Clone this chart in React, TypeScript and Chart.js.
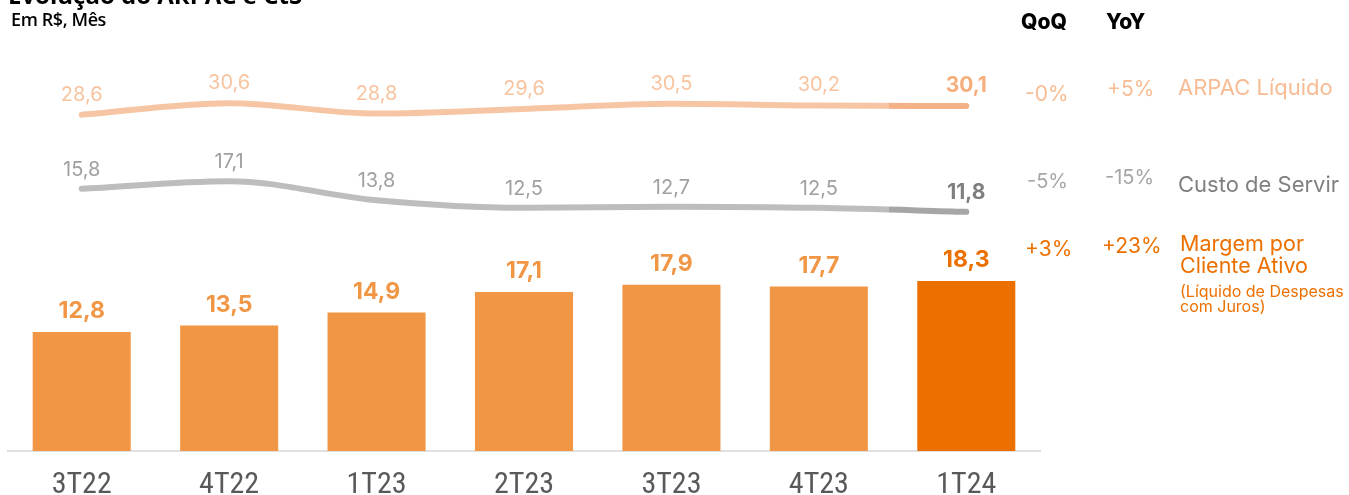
import React, { useEffect, useRef } from "react";
import { Chart, registerables } from "chart.js";

Chart.register(...registerables);

const categories = ["3T22", "4T22", "1T23", "2T23", "3T23", "4T23", "1T24"];
const margemValues = [12.8, 13.5, 14.9, 17.1, 17.9, 17.7, 18.3];
const arpacValues = [28.6, 30.6, 28.8, 29.6, 30.5, 30.2, 30.1];
const custoValues = [15.8, 17.1, 13.8, 12.5, 12.7, 12.5, 11.8];

const qoqLabels = ["-0%", "-5%", "+3%"];
const yoyLabels = ["+5%", "-15%", "+23%"];

const fmt = (v: number) => v.toFixed(1).replace(".", ",");

const ORANGE = "#EC7000";
const BAR_LIGHT = "#F09645";
const ARPAC_LINE = "#F6C6A4";
const ARPAC_LINE_DARK = "#F4B185";
const CUSTO_LINE = "#BDBDBD";
const CUSTO_LINE_DARK = "#A6A6A6";

const INTER = "Inter, 'Noto Sans', sans-serif";

const labelStyles: Record<number, any> = {
  0: { font: `700 23px ${INTER}`, lastFont: `700 23px ${INTER}`, color: BAR_LIGHT, lastColor: ORANGE, offset: 14 },
  1: { font: `400 20px ${INTER}`, lastFont: `700 21px ${INTER}`, color: "#F8C4A0", lastColor: "#F5AE7C", offset: 14 },
  2: { font: `400 20px ${INTER}`, lastFont: `700 21px ${INTER}`, color: "#A0A0A0", lastColor: "#7F7F7F", offset: 13 },
};

const valueLabelPlugin = {
  id: "valueLabels",
  afterDatasetsDraw(chart: any) {
    const ctx = chart.ctx;
    chart.data.datasets.forEach((ds: any, di: number) => {
      const meta = chart.getDatasetMeta(di);
      const st = labelStyles[di];
      const last = ds.data.length - 1;
      meta.data.forEach((el: any, i: number) => {
        const isLast = i === last;
        ctx.save();
        ctx.textAlign = "center";
        ctx.textBaseline = "alphabetic";
        ctx.font = isLast ? st.lastFont : st.font;
        ctx.fillStyle = isLast ? st.lastColor : st.color;
        ctx.fillText(fmt(ds.data[i]), el.x, el.y - st.offset);
        ctx.restore();
      });
    });
  },
};

function splitGradient(light: string, dark: string) {
  return (c: any) => {
    const chart = c.chart;
    const area = chart.chartArea;
    if (!area || !chart.scales || !chart.scales.x) return light;
    const xs = chart.scales.x;
    const mid = (xs.getPixelForValue(5) + xs.getPixelForValue(6)) / 2 - 4;
    const g = chart.ctx.createLinearGradient(area.left, 0, area.right, 0);
    const p = Math.min(1, Math.max(0, (mid - area.left) / (area.right - area.left)));
    g.addColorStop(0, light);
    g.addColorStop(p, light);
    g.addColorStop(p, dark);
    g.addColorStop(1, dark);
    return g;
  };
}

function ChartCanvas() {
  const ref = useRef<HTMLCanvasElement | null>(null);
  useEffect(() => {
    if (!ref.current) return;
    const chart = new Chart(ref.current, {
      type: "bar",
      data: {
        labels: categories,
        datasets: [
          {
            type: "bar",
            label: "Margem por Cliente Ativo",
            data: margemValues,
            backgroundColor: margemValues.map((_, i) => (i === margemValues.length - 1 ? ORANGE : BAR_LIGHT)),
            barPercentage: 0.665,
            categoryPercentage: 1,
            yAxisID: "y",
          } as any,
          {
            type: "line",
            label: "ARPAC Líquido",
            data: arpacValues,
            borderColor: splitGradient(ARPAC_LINE, ARPAC_LINE_DARK),
            borderWidth: 6,
            borderCapStyle: "round",
            pointRadius: 0,
            cubicInterpolationMode: "monotone",
            fill: false,
            yAxisID: "y2",
          } as any,
          {
            type: "line",
            label: "Custo de Servir",
            data: custoValues,
            borderColor: splitGradient(CUSTO_LINE, CUSTO_LINE_DARK),
            borderWidth: 6,
            borderCapStyle: "round",
            pointRadius: 0,
            cubicInterpolationMode: "monotone",
            fill: false,
            yAxisID: "y2",
          } as any,
        ],
      },
      options: {
        animation: false,
        responsive: false,
        maintainAspectRatio: false,
        layout: { padding: { left: 8, right: 309, top: 50, bottom: 0 } },
        plugins: { legend: { display: false }, tooltip: { enabled: false }, title: { display: false } },
        scales: {
          x: {
            grid: { display: false, drawTicks: false },
            border: { display: true, color: "#E0E0E0", width: 2 },
            ticks: {
              color: "#595959",
              padding: 19,
              font: { family: "'Liberation Sans Narrow', 'Roboto Condensed', Roboto, sans-serif", size: 30, lineHeight: 1 },
            },
          },
          y: { display: false, min: 0, max: 43.16 },
          y2: { display: false, min: -29.58, max: 39.8 },
        },
      } as any,
      plugins: [valueLabelPlugin],
    });
    return () => chart.destroy();
  }, []);
  return <canvas ref={ref} width={1349} height={519} style={{ display: "block", width: 1349, height: 519 }} />;
}

const abs = (left: number, top: number, extra: React.CSSProperties = {}): React.CSSProperties => ({
  position: "absolute",
  left,
  top,
  lineHeight: 1,
  whiteSpace: "nowrap",
  fontFamily: INTER,
  ...extra,
});

export default function App() {
  return (
    <div style={{ position: "absolute", left: 0, top: 0, width: 1349, height: 495, overflow: "hidden", background: "#fff" }}>
      <ChartCanvas />
      <div style={abs(8, -17, { fontFamily: "'Open Sans', sans-serif", fontWeight: 700, fontSize: 24, color: "#000" })}>
        Evolução do ARPAC e CtS
      </div>
      <div style={abs(11, 10, { fontFamily: "'Open Sans', sans-serif", fontWeight: 600, fontSize: 18, color: "#000", letterSpacing: -0.4 })}>
        Em R$, Mês
      </div>

      <div style={abs(1021, 11, { fontWeight: 800, fontSize: 21, color: "#000" })}>QoQ</div>
      <div style={abs(1106, 11, { fontWeight: 800, fontSize: 21, color: "#000" })}>YoY</div>

      <div style={abs(1025, 83, { fontSize: 21, color: "#F7BC94" })}>{qoqLabels[0]}</div>
      <div style={abs(1107, 78, { fontSize: 21, color: "#F7BC94" })}>{yoyLabels[0]}</div>
      <div style={abs(1178, 76, { fontSize: 22, color: "#F7BC94" })}>ARPAC Líquido</div>

      <div style={abs(1027, 171, { fontSize: 20, color: "#A6A6A6" })}>{qoqLabels[1]}</div>
      <div style={abs(1105, 167, { fontSize: 20, color: "#A6A6A6" })}>{yoyLabels[1]}</div>
      <div style={abs(1178, 173, { fontSize: 22, color: "#808080" })}>Custo de Servir</div>

      <div style={abs(1025, 238, { fontSize: 21, color: ORANGE })}>{qoqLabels[2]}</div>
      <div style={abs(1102, 235, { fontSize: 21, color: ORANGE })}>{yoyLabels[2]}</div>
      <div style={abs(1180, 232, { fontSize: 21.5, color: ORANGE, lineHeight: "22px" })}>
        Margem por
        <br />
        Cliente Ativo
      </div>
      <div style={abs(1180, 284, { fontSize: 16, color: ORANGE, lineHeight: "15px" })}>
        (Líquido de Despesas
        <br />
        com Juros)
      </div>
    </div>
  );
}
